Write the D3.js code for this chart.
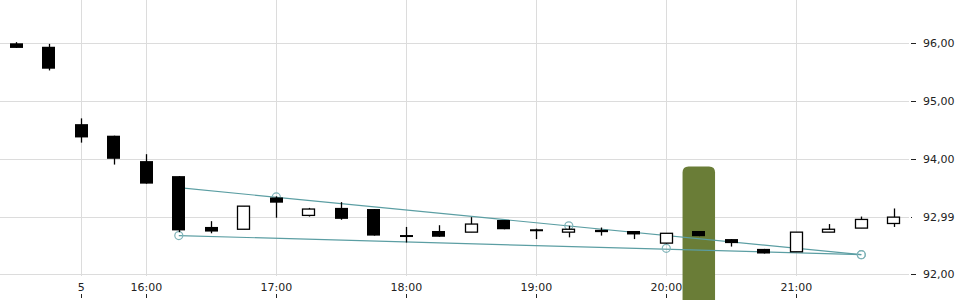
<!DOCTYPE html>
<html>
    <head>
        <meta http-equiv="content-type" content="text/html;charset=utf-8"/>
        <title>candles</title>
        <script src="https://cdn.jsdelivr.net/npm/d3@7"></script>
        <style>
            body { margin: 0; background: #fff; }
            text { font-family: "DejaVu Sans", sans-serif; font-size: 11px; fill: #222; }
        </style>
    </head>
    <body>
        <div id="chart"></div>
        <script>
            // 15 minute candles, index 0 = 15:00
            var open  = [96.00, 95.94, 94.60, 94.40, 93.96, 93.70, 92.82, 92.78, 93.33, 93.02, 93.15, 93.13, 92.68, 92.75,
                         92.73, 92.94, 92.78, 92.73, 92.77, 92.75, 92.54, 92.75, 92.61, 92.44, 92.39, 92.73, 92.80, 92.88];
            var close = [95.92, 95.56, 94.37, 94.00, 93.57, 92.76, 92.74, 93.18, 93.24, 93.13, 92.96, 92.67, 92.65, 92.65,
                         92.87, 92.78, 92.75, 92.78, 92.73, 92.69, 92.71, 92.66, 92.54, 92.36, 92.73, 92.78, 92.95, 92.99];
            var high  = [96.02, 95.99, 94.70, 94.40, 94.08, 93.70, 92.92, 93.18, 93.35, 93.15, 93.25, 93.13, 92.82, 92.85,
                         92.99, 92.94, 92.79, 92.84, 92.81, 92.75, 92.71, 92.75, 92.61, 92.44, 92.73, 92.87, 93.00, 93.14];
            var low   = [95.92, 95.53, 94.28, 93.90, 93.57, 92.73, 92.71, 92.78, 92.98, 93.00, 92.945, 92.67, 92.55, 92.65,
                         92.73, 92.78, 92.61, 92.64, 92.67, 92.61, 92.53, 92.66, 92.48, 92.36, 92.39, 92.73, 92.80, 92.82];

            var xTickIdx = [2, 4, 8, 12, 16, 20, 24];
            var xTickLabels = ["5", "16:00", "17:00", "18:00", "19:00", "20:00", "21:00"];
            var yGrid = [92, 93, 94, 95, 96];
            var yTickVals = [96, 95, 94, 92.99, 92];
            var yTickLabels = ["96,00", "95,00", "94,00", "92,99", "92,00"];

            // trend lines: [index, value]
            var upperLine = [[5, 93.50], [8, 93.34], [17, 92.84], [26, 92.34]];
            var lowerLine = [[5, 92.67], [20, 92.45], [26, 92.34]];
            var markIdx = 21;

            var width = 960;
            var height = 300;

            var svg = d3.select("#chart").append("svg")
                .attr("width", width)
                .attr("height", height);

            var x = d3.scaleLinear().domain([0, 27]).range([16.3, 893.8]);
            var y = d3.scaleLinear().domain([92, 96]).range([274.3, 43.3]);
            var step = x(1) - x(0);
            var bw = 13;

            // grid
            svg.append("g").selectAll("line")
                .data(yGrid)
                .join("line")
                .attr("x1", 0).attr("x2", 909)
                .attr("y1", d => Math.round(y(d)) + 0.5)
                .attr("y2", d => Math.round(y(d)) + 0.5)
                .attr("stroke", "#dcdcdc");

            svg.append("g").selectAll("line")
                .data(xTickIdx)
                .join("line")
                .attr("x1", d => Math.round(x(d)) + 0.5)
                .attr("x2", d => Math.round(x(d)) + 0.5)
                .attr("y1", 0).attr("y2", 276)
                .attr("stroke", "#dcdcdc");

            // highlighted candle
            var hx = x(markIdx) - step / 2;
            var hy = 166.5;
            var r = 6;
            svg.append("path")
                .attr("d", "M" + hx + "," + height + "V" + (hy + r) + "Q" + hx + "," + hy + " " + (hx + r) + "," + hy +
                    "H" + (hx + step - r) + "Q" + (hx + step) + "," + hy + " " + (hx + step) + "," + (hy + r) + "V" + height + "Z")
                .attr("fill", "#6a7d37");

            // trend lines
            var line = d3.line().x(d => x(d[0])).y(d => y(d[1]));
            [upperLine, lowerLine].forEach(function(pts) {
                svg.append("path")
                    .datum([pts[0], pts[pts.length - 1]])
                    .attr("d", line)
                    .attr("fill", "none")
                    .attr("stroke", "#5b9ea3")
                    .attr("stroke-width", 1.2);
                svg.append("g").selectAll("circle")
                    .data(pts)
                    .join("circle")
                    .attr("cx", d => x(d[0]))
                    .attr("cy", d => y(d[1]))
                    .attr("r", 4)
                    .attr("fill", "none")
                    .attr("stroke", "#7fb3b8")
                    .attr("stroke-width", 1.2);
            });

            // candles
            var idx = d3.range(open.length);
            var cg = svg.append("g");
            cg.selectAll("line")
                .data(idx)
                .join("line")
                .attr("x1", i => Math.round(x(i)) + 0.5)
                .attr("x2", i => Math.round(x(i)) + 0.5)
                .attr("y1", i => y(high[i]))
                .attr("y2", i => y(low[i]))
                .attr("stroke", "#000")
                .attr("stroke-width", 1.3);

            cg.selectAll("rect")
                .data(idx)
                .join("rect")
                .attr("x", i => close[i] >= open[i] ? Math.round(x(i) - bw / 2) + 0.5 : Math.round(x(i) - bw / 2))
                .attr("y", i => y(Math.max(open[i], close[i])))
                .attr("width", i => close[i] >= open[i] ? bw - 1 : bw)
                .attr("height", i => Math.max(2, Math.abs(y(open[i]) - y(close[i]))))
                .attr("fill", i => close[i] >= open[i] ? "#fff" : "#000")
                .attr("stroke", i => close[i] >= open[i] ? "#000" : "none")
                .attr("stroke-width", 1.3);

            // x axis labels
            var xa = svg.append("g");
            xa.selectAll("text")
                .data(xTickIdx)
                .join("text")
                .attr("x", d => x(d))
                .attr("y", 291)
                .attr("text-anchor", "middle")
                .text((d, i) => xTickLabels[i]);
            xa.selectAll("line")
                .data(xTickIdx)
                .join("line")
                .attr("x1", d => Math.round(x(d)) + 0.5)
                .attr("x2", d => Math.round(x(d)) + 0.5)
                .attr("y1", 294).attr("y2", 298)
                .attr("stroke", "#222");

            // y axis labels
            var ya = svg.append("g");
            ya.selectAll("line")
                .data(yTickVals)
                .join("line")
                .attr("x1", 911)
                .attr("x2", (d, i) => yTickLabels[i] == "92,99" ? 912 : 916)
                .attr("y1", d => Math.round(y(d)) + 0.5)
                .attr("y2", d => Math.round(y(d)) + 0.5)
                .attr("stroke", "#222");
            ya.selectAll("text")
                .data(yTickVals)
                .join("text")
                .attr("x", 923)
                .attr("y", d => y(d))
                .attr("dy", "0.35em")
                .text((d, i) => yTickLabels[i]);
        </script>
    </body>
</html>
